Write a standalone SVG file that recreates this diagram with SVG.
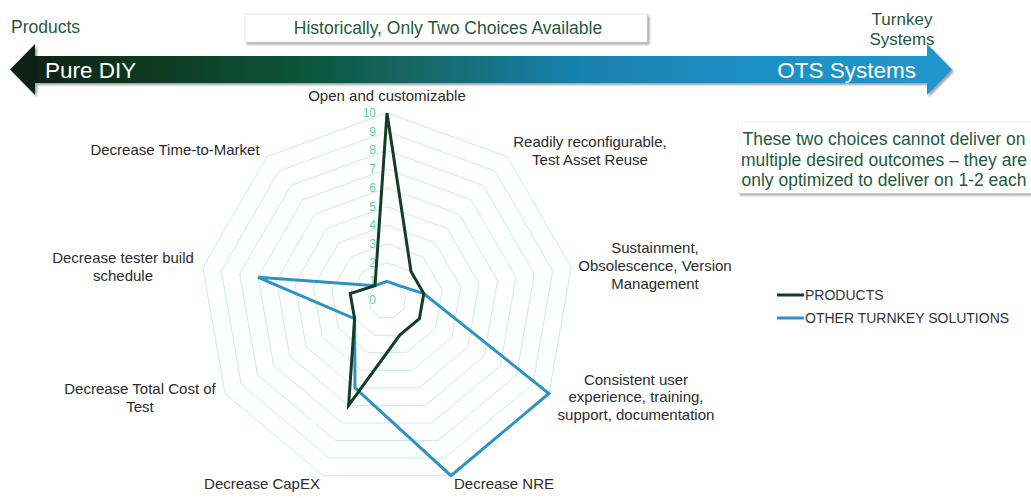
<svg xmlns="http://www.w3.org/2000/svg" xmlns:xlink="http://www.w3.org/1999/xlink" width="1031" height="498" viewBox="0 0 1031 498">
<style>
text{font-family:"Liberation Sans",Arial,sans-serif}
.hdr{font-size:17.5px;fill:#1f5a3c}
.ax{font-size:15px;fill:#2b2b2b;text-anchor:middle}
.tick{font-size:12px;fill:#55d49a;text-anchor:end}
.leg{font-size:14px;fill:#333}
.grid{fill:none;stroke:#c8eee0;stroke-width:1;vector-effect:non-scaling-stroke}
.s1{fill:none;stroke:#123d26;stroke-width:3;stroke-linejoin:miter}
.s2{fill:none;stroke:#2b93c6;stroke-width:3;stroke-linejoin:miter}
</style>
<defs>
<linearGradient id="arr" gradientUnits="userSpaceOnUse" x1="10" y1="0" x2="952" y2="0">
<stop offset="0" stop-color="#0a1f12"/>
<stop offset="0.15" stop-color="#0c3a22"/>
<stop offset="0.3" stop-color="#0e5337"/>
<stop offset="0.45" stop-color="#156a6c"/>
<stop offset="0.6" stop-color="#1980ad"/>
<stop offset="0.8" stop-color="#1d90c6"/>
<stop offset="1" stop-color="#2196cc"/>
</linearGradient>
<filter id="sh" x="-5%" y="-20%" width="110%" height="160%">
<feDropShadow dx="2" dy="2" stdDeviation="1.2" flood-color="#777" flood-opacity="0.7"/>
</filter>
<polygon id="g" class="grid" points="0,-100 64.28,-76.60 98.48,-17.36 86.60,50 34.20,93.97 -34.20,93.97 -86.60,50 -98.48,-17.36 -64.28,-76.60"/>
</defs>
<rect width="1031" height="498" fill="#fff"/>

<g id="header">
<text class="hdr" x="11" y="33">Products</text>
<rect x="245" y="14" width="402" height="28" fill="#fff" stroke="#e6e6e6" stroke-width="0.8" filter="url(#sh)"/>
<text class="hdr" x="448" y="34" text-anchor="middle">Historically, Only Two Choices Available</text>
<text class="hdr" x="902" y="25" text-anchor="middle" style="font-size:17px">Turnkey</text>
<text class="hdr" x="902" y="45" text-anchor="middle" style="font-size:17px">Systems</text>
</g>

<g id="arrow">
<path d="M10,69.5 L35,44 L35,56 L927,56 L927,44 L952,69.5 L927,95 L927,83 L35,83 L35,95 Z" fill="url(#arr)" filter="url(#sh)"/>
<text x="45" y="78" style="font-size:22.5px;fill:#fff">Pure DIY</text>
<text x="916" y="78" text-anchor="end" style="font-size:22.5px;fill:#fff">OTS Systems</text>
</g>

<g id="note">
<rect x="738" y="122" width="300" height="71" fill="#fff" stroke="#f0f0f0" stroke-width="0.8" filter="url(#sh)"/>
<text class="hdr" x="884" y="145" text-anchor="middle">These two choices cannot deliver on</text>
<text class="hdr" x="884" y="166" text-anchor="middle">multiple desired outcomes – they are</text>
<text class="hdr" x="884" y="186" text-anchor="middle">only optimized to deliver on 1-2 each</text>
</g>

<g id="radar-grid">
<use xlink:href="#g" href="#g" transform="translate(387,300) scale(0.187)"/>
<use xlink:href="#g" href="#g" transform="translate(387,300) scale(0.374)"/>
<use xlink:href="#g" href="#g" transform="translate(387,300) scale(0.561)"/>
<use xlink:href="#g" href="#g" transform="translate(387,300) scale(0.748)"/>
<use xlink:href="#g" href="#g" transform="translate(387,300) scale(0.935)"/>
<use xlink:href="#g" href="#g" transform="translate(387,300) scale(1.122)"/>
<use xlink:href="#g" href="#g" transform="translate(387,300) scale(1.309)"/>
<use xlink:href="#g" href="#g" transform="translate(387,300) scale(1.496)"/>
<use xlink:href="#g" href="#g" transform="translate(387,300) scale(1.683)"/>
<use xlink:href="#g" href="#g" transform="translate(387,300) scale(1.87)"/>
</g>

<g id="ticks">
<text class="tick" x="376" y="304">0</text>
<text class="tick" x="376" y="285.3">1</text>
<text class="tick" x="376" y="266.6">2</text>
<text class="tick" x="376" y="247.9">3</text>
<text class="tick" x="376" y="229.2">4</text>
<text class="tick" x="376" y="210.5">5</text>
<text class="tick" x="376" y="191.8">6</text>
<text class="tick" x="376" y="173.1">7</text>
<text class="tick" x="376" y="154.4">8</text>
<text class="tick" x="376" y="135.7">9</text>
<text class="tick" x="376" y="117">10</text>
</g>

<g id="series">
<polygon class="s2" points="387,281.3 399,285.7 423.8,293.5 548.9,393.5 451,475.7 355,387.9 354.6,318.7 258.1,277.3 375,285.7"/>
<polygon class="s1" points="387,113 411,271.4 423.8,293.5 419.4,318.7 399.8,335.1 348.6,405.4 354.6,318.7 350.2,293.5 375,285.7"/>
</g>

<g id="axis-labels">
<text class="ax" x="387" y="101">Open and customizable</text>
<text class="ax" x="590" y="147">Readily reconfigurable,</text>
<text class="ax" x="590" y="165">Test Asset Reuse</text>
<text class="ax" x="655" y="253">Sustainment,</text>
<text class="ax" x="655" y="271">Obsolescence, Version</text>
<text class="ax" x="655" y="289">Management</text>
<text class="ax" x="636" y="385">Consistent user</text>
<text class="ax" x="636" y="402">experience, training,</text>
<text class="ax" x="636" y="420">support, documentation</text>
<text class="ax" x="504" y="489">Decrease NRE</text>
<text class="ax" x="262" y="489">Decrease CapEX</text>
<text class="ax" x="140" y="394">Decrease Total Cost of</text>
<text class="ax" x="140" y="412">Test</text>
<text class="ax" x="123" y="263">Decrease tester build</text>
<text class="ax" x="123" y="281">schedule</text>
<text class="ax" x="175" y="155">Decrease Time-to-Market</text>
</g>

<g id="legend">
<line x1="777" y1="295" x2="804" y2="295" stroke="#123d26" stroke-width="3"/>
<text class="leg" x="805" y="300">PRODUCTS</text>
<line x1="777" y1="318" x2="804" y2="318" stroke="#2b93c6" stroke-width="3"/>
<text class="leg" x="805" y="323">OTHER TURNKEY SOLUTIONS</text>
</g>
</svg>
